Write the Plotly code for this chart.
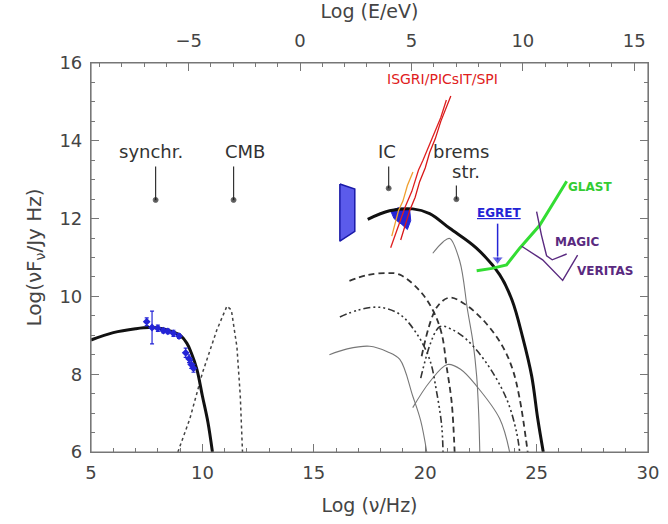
import numpy as np
import plotly.graph_objects as go

# log(E/eV) = log(nu/Hz) + log(h/eV)
LOG_H_EV = np.log10(4.1357e-15)
NU_RANGE = [5, 30]
LF_RANGE = [6, 16]

# synchrotron model + radio/optical data
nu_sync = [5.0, 6.0, 7.0, 7.6, 8.2, 8.7, 9.0, 9.3, 9.5, 9.75, 10.0, 10.25, 10.45]
lf_sync = [8.88, 9.07, 9.17, 9.2, 9.17, 9.08, 9.0, 8.8, 8.55, 8.13, 7.44, 6.76, 6.0]
nu_radio = [7.5, 7.74, 8.0, 8.25, 8.45, 8.7, 8.95, 9.25, 9.4, 9.5, 9.6]
lf_radio = [9.35, 9.2, 9.18, 9.12, 9.1, 9.05, 8.98, 8.55, 8.4, 8.25, 8.15]
err_radio = [0.1, 0.42, 0.08, 0.06, 0.06, 0.08, 0.06, 0.12, 0.1, 0.1, 0.1]

# CMB
nu_cmb = [8.9, 9.44, 10.0, 10.65, 11.1, 11.3, 11.55, 11.7, 11.8]
lf_cmb = [6.0, 6.86, 8.03, 9.14, 9.75, 9.65, 8.7, 7.44, 6.0]

# inverse Compton (thick) and bremsstrahlung (thin)
nu_ic = [17.42, 18.4, 19.44, 20.2, 21.1, 22.3, 23.34, 23.9, 24.37, 24.78, 25.05, 25.3]
lf_ic = [11.98, 12.2, 12.25, 12.13, 11.75, 11.24, 10.56, 9.9, 8.96, 7.95, 6.86, 6.0]
nu_br = [20.34, 20.8, 21.1, 21.55, 21.9, 22.15, 22.31, 22.4, 22.45]
lf_br = [11.11, 11.4, 11.49, 10.91, 9.65, 8.8, 7.95, 7.0, 6.0]

# lower-field models
nu_ic_a = [16.6, 17.4, 18.3, 18.86, 19.75, 20.34, 20.74, 20.96, 21.19, 21.32]
lf_ic_a = [10.4, 10.55, 10.6, 10.56, 10.15, 9.65, 9.04, 8.2, 7.27, 6.0]
nu_br_a = [19.84, 20.52, 21.1, 21.86, 22.76, 23.48, 23.92, 24.24, 24.6]
lf_br_a = [8.46, 9.72, 9.97, 9.77, 9.29, 8.71, 8.13, 7.37, 6.0]
nu_ic_b = [16.17, 17.0, 17.96, 18.86, 19.62, 20.2, 20.52, 20.74, 20.8]
lf_ic_b = [9.47, 9.65, 9.72, 9.54, 9.04, 8.38, 7.52, 6.68, 6.0]
nu_br_b = [19.8, 20.65, 21.2, 21.86, 22.76, 23.65, 24.1, 24.24]
lf_br_b = [7.9, 9.22, 9.15, 8.89, 8.28, 7.37, 6.51, 6.0]
nu_ic_c = [15.7, 16.5, 17.5, 18.3, 18.86, 19.44, 19.8, 20.07]
lf_ic_c = [8.5, 8.65, 8.72, 8.58, 8.38, 7.44, 6.8, 6.0]
nu_br_c = [19.44, 20.2, 21.0, 21.6, 22.3, 23.34, 23.79]
lf_br_c = [7.14, 7.8, 8.25, 8.12, 7.7, 6.86, 6.0]

# X-ray bow-tie and IC-peak data
nu_xray = [16.17, 16.84, 16.84, 16.17, 16.17]
lf_xray = [12.89, 12.76, 11.67, 11.42, 12.89]
nu_blob = [18.45, 18.8, 19.3, 19.35, 19.2, 18.95, 18.6, 18.45]
lf_blob = [12.2, 12.28, 12.25, 11.95, 11.72, 11.85, 12.0, 12.2]

# INTEGRAL spectra
nu_isgri = [18.45, 18.8, 19.1, 19.4, 19.7, 19.9, 20.2, 20.4, 20.7, 20.95]
lf_isgri = [11.25, 11.8, 12.3, 12.7, 13.25, 13.5, 13.9, 14.2, 14.6, 15.05]
nu_picsit = [18.9, 19.15, 19.3, 19.55, 19.75, 20.0, 20.2, 20.45, 20.7, 21.15]
lf_picsit = [11.45, 11.9, 12.2, 12.55, 12.95, 13.3, 13.7, 14.05, 14.5, 15.15]
nu_spi = [18.5, 18.8, 19.0, 19.2, 19.45]
lf_spi = [11.55, 12.2, 12.45, 12.85, 13.2]

# sensitivities
nu_glast = [22.31, 23.0, 23.65, 24.24, 25.13, 26.35]
lf_glast = [10.66, 10.72, 10.81, 11.24, 11.82, 12.96]
nu_veritas = [24.33, 25.27, 26.17, 26.84]
lf_veritas = [11.29, 10.94, 10.41, 11.06]
nu_magic = [25.0, 25.22, 25.45, 25.7, 26.35]
lf_magic = [12.18, 11.57, 11.04, 10.94, 11.09]
nu_egret = [23.25, 23.25]
lf_egret = [11.87, 10.95]

# component pointers (synchr., CMB, IC, brems str.)
ptr_nu = [7.9, 11.4, 18.36, 21.4]
ptr_top = [13.34, 13.34, 13.34, 12.85]
ptr_tip = [12.48, 12.48, 12.78, 12.5]

FONT = "DejaVu Sans"
INK = "#333333"
BLUE = "#2424d6"
PURPLE = "#5a2a80"
DASH = "6px,4px"
DASH3DOT = "7px,3px,2px,3px,2px,3px,2px,3px"

fig = go.Figure()


def line(x, y, color=INK, width=1.0, dash="solid", shape="spline"):
    fig.add_trace(go.Scatter(x=x, y=y, mode="lines", line_shape=shape,
                             line=dict(color=color, width=width, dash=dash),
                             hoverinfo="skip", showlegend=False))


# model curves
line(nu_cmb, lf_cmb, color="#444", width=1.5, dash="dot", shape="linear")
line(nu_ic_c, lf_ic_c, color="#777", width=1.1)
line(nu_br_c, lf_br_c, color="#777", width=1.1)
line(nu_br, lf_br, color="#777", width=1.1)
line(nu_ic_a, lf_ic_a, width=1.8, dash=DASH)
line(nu_br_a, lf_br_a, width=1.8, dash=DASH)
line(nu_ic_b, lf_ic_b, width=1.6, dash=DASH3DOT)
line(nu_br_b, lf_br_b, width=1.6, dash=DASH3DOT)

# data patches
fig.add_trace(go.Scatter(x=nu_xray, y=lf_xray, mode="lines", fill="toself",
                         fillcolor="rgba(50,50,230,0.8)", line=dict(color="#1a1aa8", width=1.5),
                         hoverinfo="skip", showlegend=False))
fig.add_trace(go.Scatter(x=nu_blob, y=lf_blob, mode="lines", fill="toself",
                         fillcolor=BLUE, line=dict(color=BLUE, width=1),
                         hoverinfo="skip", showlegend=False))

line(nu_sync, lf_sync, color="#111", width=3)
line(nu_ic, lf_ic, color="#111", width=3)

fig.add_trace(go.Scatter(x=nu_radio, y=lf_radio, mode="markers",
                         marker=dict(color=BLUE, size=6, symbol="diamond"),
                         error_y=dict(type="data", array=err_radio, color=BLUE,
                                      thickness=1.2, width=2),
                         hoverinfo="skip", showlegend=False))

line(nu_isgri, lf_isgri, color="#e02020", width=1.3, shape="linear")
line(nu_picsit, lf_picsit, color="#d81818", width=1.3, shape="linear")
line(nu_spi, lf_spi, color="#f0a030", width=1.3, shape="linear")
line(nu_glast, lf_glast, color="#33dd33", width=3, shape="linear")
line(nu_veritas, lf_veritas, color=PURPLE, width=1.4, shape="linear")
line(nu_magic, lf_magic, color=PURPLE, width=1.4, shape="linear")

# EGRET upper-limit arrow
fig.add_trace(go.Scatter(x=nu_egret, y=lf_egret, mode="lines+markers",
                         line=dict(color=BLUE, width=1.5),
                         marker=dict(symbol=["line-ew", "triangle-down"], size=[0, 10],
                                     color=BLUE),
                         hoverinfo="skip", showlegend=False))

# pointer lines ending in a dot
for x, y0, y1 in zip(ptr_nu, ptr_top, ptr_tip):
    fig.add_trace(go.Scatter(x=[x, x], y=[y0, y1], mode="lines+markers",
                             line=dict(color=INK, width=1.2),
                             marker=dict(size=[0, 5], color="#111"),
                             hoverinfo="skip", showlegend=False))

# dummy trace so the top energy axis is drawn
fig.add_trace(go.Scatter(x=[NU_RANGE[0] + LOG_H_EV, NU_RANGE[1] + LOG_H_EV], y=LF_RANGE,
                         xaxis="x2", mode="markers", marker=dict(opacity=0),
                         hoverinfo="skip", showlegend=False))

anns = []


def label(x, y, text, size=18, color=INK):
    anns.append(dict(x=x, y=y, text=text, showarrow=False,
                     font=dict(family=FONT, size=size, color=color)))


label(7.68, 13.72, "synchr.")
label(11.9, 13.72, "CMB")
label(18.27, 13.72, "IC")
label(21.6, 13.72, "brems")
label(21.85, 13.2, "str.")
label(20.78, 15.58, "ISGRI/PICsIT/SPI", size=14, color="#e02020")
label(23.3, 12.15, "<b><u>EGRET</u></b>", size=12, color=BLUE)
label(27.4, 12.8, "<b>GLAST</b>", size=12, color="#33cc33")
label(26.85, 11.4, "<b>MAGIC</b>", size=12, color=PURPLE)
label(28.05, 10.65, "<b>VERITAS</b>", size=12, color=PURPLE)

tick_font = dict(family=FONT, size=18, color="#444")
title_font = dict(family=FONT, size=19, color="#444")
axis_common = dict(showline=True, linecolor="#777", linewidth=1.2, ticks="inside",
                   tickcolor="#777", showgrid=False, zeroline=False, tickfont=tick_font,
                   automargin=False)

fig.update_layout(
    width=668, height=524,
    paper_bgcolor="white", plot_bgcolor="white",
    margin=dict(l=91, r=20, t=63, b=72),
    font=dict(family=FONT, color=INK),
    annotations=anns,
    xaxis=dict(range=NU_RANGE, tick0=5, dtick=5, ticklen=8, ticklabelstandoff=4,
               minor=dict(dtick=1, ticklen=4, ticks="inside", tickcolor="#777"),
               title=dict(text="Log (ν/Hz)", font=title_font, standoff=16),
               **axis_common),
    xaxis2=dict(range=[NU_RANGE[0] + LOG_H_EV, NU_RANGE[1] + LOG_H_EV], overlaying="x",
                side="top", tick0=0, dtick=5, ticklen=8, ticklabelstandoff=8,
                minor=dict(dtick=1, ticklen=4, ticks="inside", tickcolor="#777"),
                title=dict(text="Log (E/eV)", font=title_font, standoff=6),
                **axis_common),
    yaxis=dict(range=LF_RANGE, tick0=6, dtick=2, ticklen=8, mirror="ticks",
               ticklabelstandoff=4,
               minor=dict(dtick=0.5, ticklen=4, ticks="inside", tickcolor="#777"),
               title=dict(text="Log(νF<sub>ν</sub>/Jy Hz)",
                          font=dict(family=FONT, size=20, color="#444"), standoff=12),
               **axis_common),
    shapes=[dict(type="rect", xref="paper", yref="paper", x0=0, x1=1, y0=0, y1=1,
                 line=dict(color="#777", width=1.2), layer="above")],
)

fig.write_html("out.html", config={"displayModeBar": False},
               post_script="document.body.style.margin='0';")
